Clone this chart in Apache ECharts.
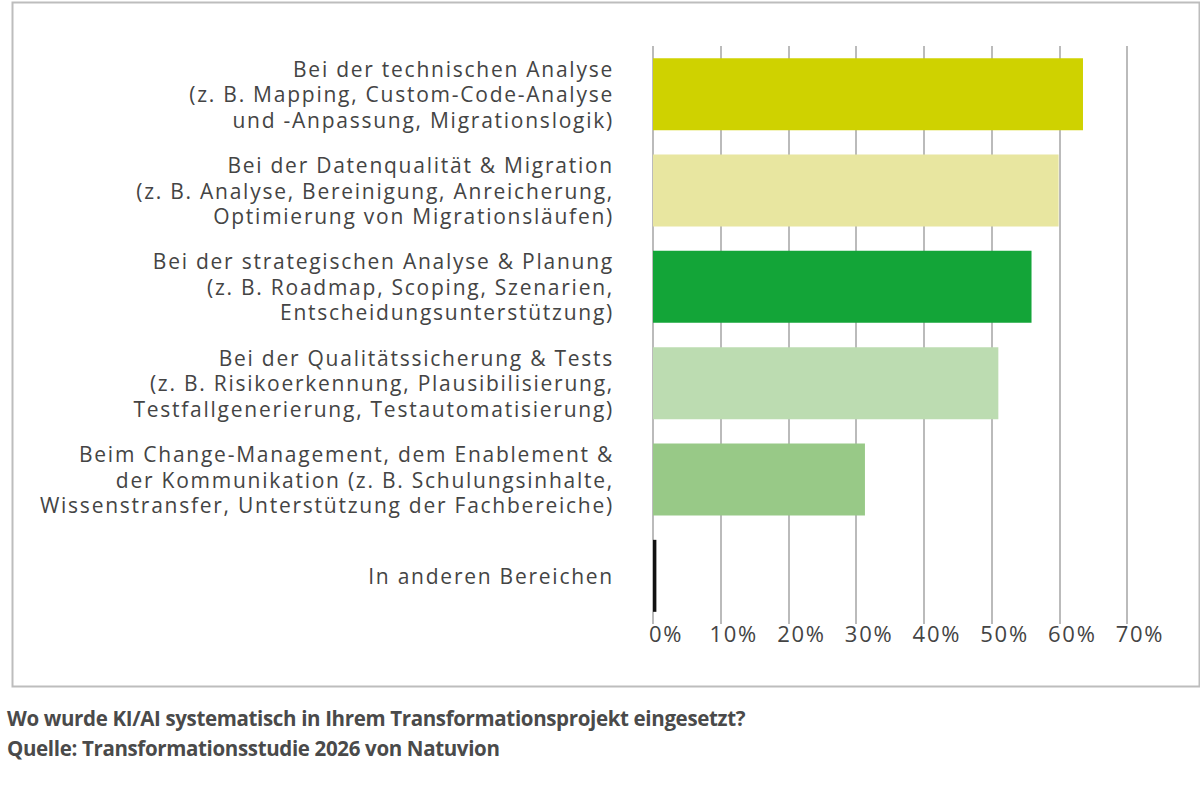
<!DOCTYPE html>
<html><head><meta charset="utf-8">
<script src="https://cdn.jsdelivr.net/npm/echarts@6/dist/echarts.min.js"></script>
<style>
html,body{margin:0;padding:0;background:#fff}
#c{width:1200px;height:811px}
#c svg text{letter-spacing:1.75px}
#c svg text[style*="bold"]{letter-spacing:-0.35px}
</style>
</head><body><div id="c"></div>
<script>
const categories = [
  "Bei der technischen Analyse\n(z. B. Mapping, Custom-Code-Analyse\nund -Anpassung, Migrationslogik)",
  "Bei der Datenqualität & Migration\n(z. B. Analyse, Bereinigung, Anreicherung,\nOptimierung von Migrationsläufen)",
  "Bei der strategischen Analyse & Planung\n(z. B. Roadmap, Scoping, Szenarien,\nEntscheidungsunterstützung)",
  "Bei der Qualitätssicherung & Tests\n(z. B. Risikoerkennung, Plausibilisierung,\nTestfallgenerierung, Testautomatisierung)",
  "Beim Change-Management, dem Enablement &\nder Kommunikation (z. B. Schulungsinhalte,\nWissenstransfer, Unterstützung der Fachbereiche)",
  "In anderen Bereichen"
];
const values = [63.5, 59.9, 55.9, 51.0, 31.3, 0.5];
const barColors = ["#cfd200", "#e8e6a0", "#13a538", "#bcdcb1", "#98c987", "#111111"];
const titleLines = [
  "Wo wurde KI/AI systematisch in Ihrem Transformationsprojekt eingesetzt?",
  "Quelle: Transformationsstudie 2026 von Natuvion"
];

const labelNudge = [[16, 0, 0, 0], null, null, null, null, [0, 0, 8, 0]];

const chart = echarts.init(document.getElementById('c'), null, { renderer: 'svg' });
chart.setOption({
  animation: false,
  backgroundColor: '#fff',
  graphic: [{
    type: 'rect', left: 10, top: 0,
    shape: { width: 1187, height: 684 },
    style: { fill: 'none', stroke: '#bdbdbd', lineWidth: 2 }
  }],
  title: {
    text: titleLines.join('\n'),
    left: 7, top: 703, padding: 0,
    textStyle: { fontFamily: 'Open Sans', fontWeight: 'bold', fontSize: 20.5, color: '#4a4a4a', lineHeight: 30 }
  },
  grid: { left: 653, width: 474, top: 46, height: 578, containLabel: false },
  xAxis: {
    type: 'value', min: 0, max: 70, interval: 10,
    axisLine: { show: false }, axisTick: { show: false },
    splitLine: { lineStyle: { color: '#bbbbbb', width: 2 } },
    axisLabel: {
      formatter: '{value}%', color: '#444', fontFamily: 'Open Sans', fontSize: 22,
      margin: -2, padding: [0, 0, 0, 26]
    }
  },
  yAxis: {
    type: 'category',
    data: categories.map((c, i) => labelNudge[i] ? { value: c, textStyle: { padding: labelNudge[i] } } : c),
    inverse: true,
    axisLine: { show: false }, axisTick: { show: false },
    axisLabel: {
      color: '#444', fontFamily: 'Open Sans', fontSize: 21, lineHeight: 25.5,
      margin: 39, align: 'right'
    }
  },
  series: [{
    type: 'bar', barWidth: 72,
    data: values.map((v, i) => ({ value: v, itemStyle: { color: barColors[i] } })),
    silent: true
  }]
});
</script></body></html>
